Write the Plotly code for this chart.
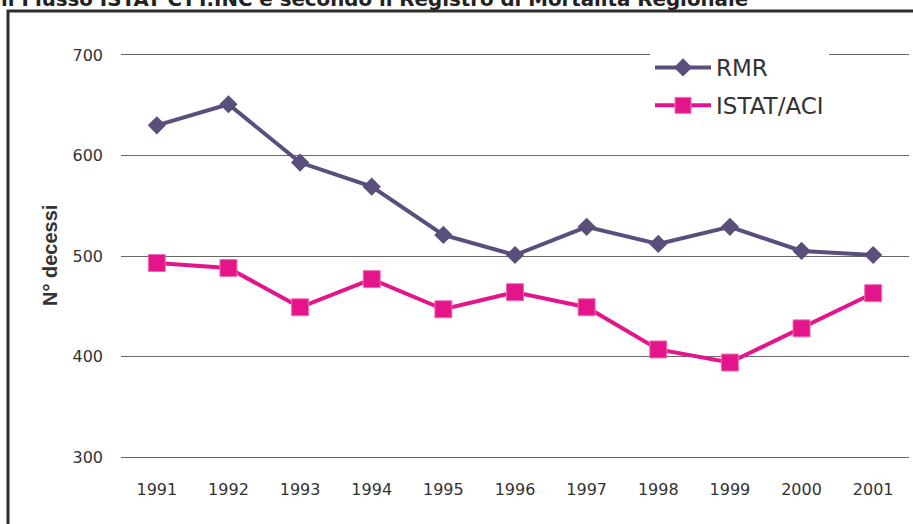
import plotly.graph_objects as go

years = ["1991", "1992", "1993", "1994", "1995", "1996", "1997", "1998", "1999", "2000", "2001"]
rmr = [630, 651, 593, 569, 521, 501, 529, 512, 529, 505, 501]
istat = [493, 488, 449, 477, 447, 464, 449, 407, 394, 428, 463]
y_ticks = [300, 400, 500, 600, 700]
title_text = "il Flusso ISTAT CTT.INC e secondo il Registro di Mortalità Regionale"
y_title = "N° decessi"

W, H = 913, 524
L, R, T, B = 121, 4, 55, 67
PW, PH = W - L - R, H - T - B

def px_x(p):
    return (p - L) / PW

def px_y(p):
    return 1 - (p - T) / PH

fig = go.Figure()
fig.add_trace(go.Scatter(
    x=years, y=rmr, name="RMR", mode="lines+markers", legendgroup="a",
    line=dict(color="#5A4E7C", width=4),
    marker=dict(symbol="diamond", size=14, color="#5A4E7C"),
))
fig.add_trace(go.Scatter(
    x=years, y=istat, name="ISTAT/ACI", mode="lines+markers", legendgroup="b",
    line=dict(color="#E4148B", width=4),
    marker=dict(symbol="square", size=17, color="#E4148B", line=dict(color="#F070B5", width=1)),
))

fig.update_layout(
    width=W, height=H,
    margin=dict(l=L, r=R, t=T, b=B),
    paper_bgcolor="white", plot_bgcolor="white",
    font=dict(family="DejaVu Sans", size=16, color="#333333"),
    showlegend=True,
    legend=dict(
        x=px_x(650), y=px_y(46), xanchor="left", yanchor="top",
        bgcolor="white", font=dict(size=23, family="DejaVu Sans", color="#333333"),
        itemwidth=56, traceorder="grouped", tracegroupgap=5,
    ),
    xaxis=dict(
        type="category", range=[-0.5, 10.5], showgrid=False, zeroline=False,
        showline=True, mirror=True, linecolor="#666666", linewidth=1,
        ticks="", ticklabelstandoff=18,
        tickfont=dict(size=16, family="DejaVu Sans", color="#333333"),
    ),
    yaxis=dict(
        range=[300, 700], tickvals=y_ticks, showgrid=True, gridcolor="#666666", gridwidth=1,
        zeroline=False, showline=False, ticks="", ticklabelstandoff=17,
        tickfont=dict(size=16, family="DejaVu Sans", color="#333333"),
    ),
)

fig.add_annotation(
    text=y_title, xref="paper", yref="paper", x=px_x(50), y=0.5,
    textangle=-90, showarrow=False, xanchor="center", yanchor="middle",
    font=dict(family="Liberation Sans", size=20, color="#333333", weight="bold"),
)
fig.add_annotation(
    text=title_text, xref="paper", yref="paper", x=px_x(-1), y=px_y(-0.5),
    showarrow=False, xanchor="left", yanchor="middle",
    font=dict(family="DejaVu Sans", size=19.8, color="#222222", weight="bold"),
)
fig.add_shape(
    type="rect", xref="paper", yref="paper",
    x0=px_x(8), y0=px_y(11), x1=px_x(940), y1=px_y(560),
    line=dict(color="#2E2E2E", width=3), fillcolor="rgba(0,0,0,0)", layer="above",
)

fig.write_html(
    "out.html",
    config={"displayModeBar": False},
    post_script="document.body.style.margin='0';document.body.style.overflow='hidden';",
)
